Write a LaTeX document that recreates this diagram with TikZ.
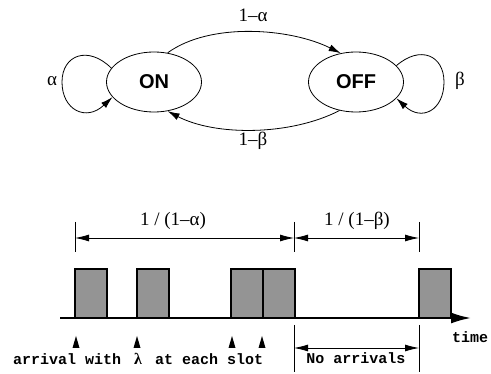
\documentclass[tikz,border=0pt]{standalone}
\usepackage{fontspec}
\setmainfont{Liberation Serif}
\setsansfont{Liberation Sans}
\setmonofont{Liberation Mono}
\usetikzlibrary{arrows.meta,shapes.geometric}

\tikzset{
  state/.style={ellipse, draw, line width=0.8pt, minimum width=95pt, minimum height=60pt,
                inner sep=0pt, font=\fontsize{20}{22}\selectfont\sffamily\bfseries},
  trans/.style={line width=0.8pt, -{Latex[length=12pt,width=7pt]}},
  prob/.style={font=\fontsize{19}{21}\selectfont},
  slotbox/.style={draw, line width=2pt, fill=black!42},
  dimline/.style={line width=0.8pt, {Latex[length=14pt,width=7pt]}-{Latex[length=14pt,width=7pt]}},
  tick/.style={line width=0.6pt},
  ttlabel/.style={font=\fontsize{15}{17}\selectfont\ttfamily\bfseries, inner sep=0pt},
  marker/.style={fill=black}
}

\begin{document}
\begin{tikzpicture}[x=1pt, y=-1pt]
  \useasboundingbox (0,0) rectangle (491,374);

  % --- two-state Markov chain ---
  \node[state] (on)  at (154,82) {ON};
  \node[state] (off) at (356,82) {OFF};

  \draw[trans] (on.65) .. controls (210,22) and (290,28) .. (off.118);
  \draw[trans] (off.240) .. controls (290,136) and (215,136) .. (on.295);
  \draw[trans] (on.162) .. controls (88,45) and (62,55) .. (62,82)
                         .. controls (62,110) and (86,122) .. (on.200);
  \draw[trans] (off.22) .. controls (420,45) and (444,55) .. (444,82)
                         .. controls (444,110) and (422,122) .. (off.338);

  \node[prob] (pa)  at (253,15)  {1–α};
  \node[prob] (pb)  at (253,141) {1–β};
  \node[prob] (la)  at (52,81)   {α};
  \node[prob] (lb)  at (460,81)  {β};

  % --- durations of the ON and OFF periods ---
  \coordinate (t0) at (75,238);
  \coordinate (t1) at (294,238);
  \coordinate (t2) at (419,238);
  \draw[tick] (75,222) -- (75,252);
  \draw[tick] (294,222) -- (294,252);
  \draw[tick] (419,222) -- (419,252);
  \draw[dimline] (t0) -- (t1);
  \draw[dimline] (t1) -- (t2);
  \node[prob] (don)  at (173,221) {1 / (1–α)};
  \node[prob] (doff) at (357,221) {1 / (1–β)};

  % --- occupied slots on the time axis ---
  \draw[slotbox] (75,269)  rectangle (107,318);
  \draw[slotbox] (137,269) rectangle (169,318);
  \draw[slotbox] (231,269) rectangle (263,318);
  \draw[slotbox] (263,269) rectangle (295,318);
  \draw[slotbox] (419,269) rectangle (451,318);

  \coordinate (ax0) at (60,318);
  \coordinate (ax1) at (471,318);
  \draw[line width=2pt, -{Latex[length=20pt,width=11pt]}] (ax0) -- (ax1);
  \node[ttlabel, anchor=base west] (time) at (452,343) {time};

  % --- arrival markers ---
  \foreach \mx in {76,137,232,262}
    \fill[marker] (\mx,336) -- (\mx+3.5,348) -- (\mx-3.5,348) -- cycle;

  \node[ttlabel, anchor=base west] (arr) at (13,365)
    {arrival with\hspace{4pt} {\rmfamily\bfseries\fontsize{16}{18}\selectfont λ}\hspace{4pt} at each slot};

  % --- silent OFF period ---
  \draw[tick] (294,325) -- (294,372);
  \draw[tick] (419,325) -- (419,372);
  \coordinate (n0) at (294,348);
  \coordinate (n1) at (419,348);
  \draw[dimline] (n0) -- (n1);
  \node[ttlabel, anchor=base] (noarr) at (356,364) {No arrivals};
\end{tikzpicture}
\end{document}
